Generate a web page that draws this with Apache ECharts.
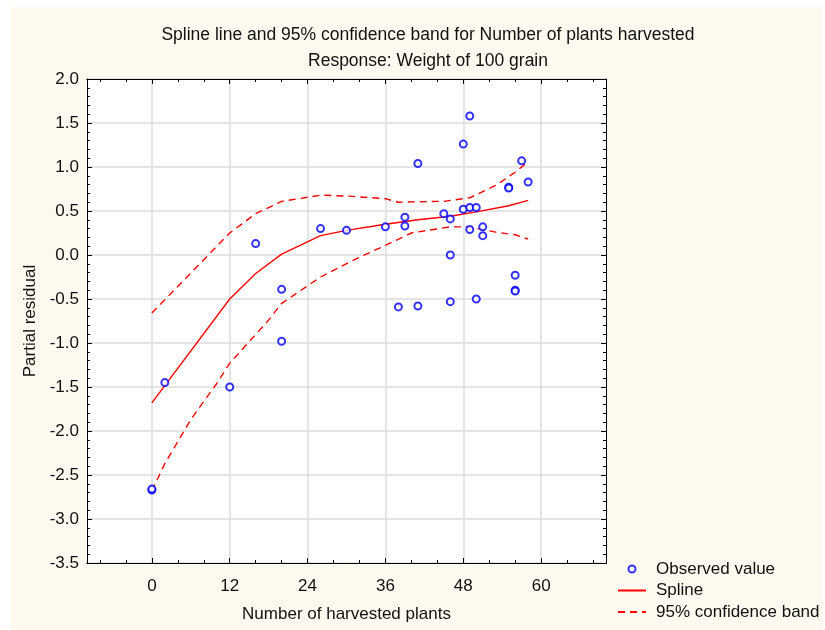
<!DOCTYPE html>
<html>
<head>
<meta charset="utf-8">
<script src="https://cdn.jsdelivr.net/npm/echarts@6/dist/echarts.min.js"></script>
<style>
  html, body { margin: 0; padding: 0; background: #ffffff; }
  #chart { width: 825px; height: 630px; }
</style>
</head>
<body>
<div id="chart"></div>
<script>
// observed partial residuals
const obsX = [0, 0, 2, 12, 16, 20, 20, 26, 30, 36, 38, 39, 39, 41, 41, 45, 46, 46, 46, 48, 48,
  49, 49, 49, 50, 50, 51, 51, 55, 55, 56, 56, 56, 57, 58];
const obsY = [-2.67, -2.66, -1.45, -1.50, 0.13, -0.39, -0.98, 0.30, 0.28, 0.32, -0.59, 0.43, 0.33, 1.04, -0.58, 0.47, 0.41, 0.00, -0.53, 1.26, 0.52,
  1.58, 0.54, 0.29, 0.54, -0.50, 0.32, 0.22, 0.77, 0.76, -0.23, -0.40, -0.41, 1.07, 0.83];

// spline fit
const splineX = [0, 12, 16, 20, 26, 30, 36, 41, 46, 50, 55, 58];
const splineY = [-1.68, -0.50, -0.21, 0.01, 0.22, 0.28, 0.35, 0.40, 0.44, 0.49, 0.56, 0.62];

// 95% band
const upperX = [0, 12, 16, 20, 26, 30, 36, 38, 45, 49, 53, 56, 58];
const upperY = [-0.66, 0.25, 0.47, 0.61, 0.68, 0.67, 0.64, 0.60, 0.61, 0.65, 0.79, 0.94, 1.06];
const lowerX = [0, 2, 6, 10, 12, 18, 20, 26, 31, 36, 40, 46, 49, 53, 56, 58];
const lowerY = [-2.68, -2.37, -1.87, -1.46, -1.23, -0.74, -0.55, -0.25, -0.06, 0.11, 0.25, 0.32, 0.32, 0.26, 0.23, 0.18];

const xTickLabels = [0, 12, 24, 36, 48, 60];
const xMinorTicks = [];
for (let v = -8; v <= 68; v += 4) xMinorTicks.push(v);

const zip = (xs, ys) => xs.map((x, i) => [x, ys[i]]);

const font = 'Liberation Sans, Arial, sans-serif';
const txt = '#111111';
const fs = 17;

function xAxisFor(pos, major) {
  const vals = major ? xTickLabels : xMinorTicks;
  return {
    type: 'value', position: pos, min: -10, max: 70,
    axisLine: { show: true, onZero: false, lineStyle: { color: '#000', width: 1 } },
    axisTick: { show: true, inside: true, length: major ? 5 : 3, customValues: vals,
      lineStyle: { color: '#000', width: 1 } },
    axisLabel: { show: major && pos === 'bottom', customValues: xTickLabels, margin: 15,
      fontFamily: font, fontSize: fs, color: txt },
    splitLine: { show: major && pos === 'bottom', lineStyle: { color: '#dcdcdc', width: 1.5 } },
    name: major && pos === 'bottom' ? 'Number of harvested plants' : '',
    nameLocation: 'middle', nameGap: 43,
    nameTextStyle: { fontFamily: font, fontSize: fs, color: txt }
  };
}

function yAxisFor(pos) {
  const left = pos === 'left';
  return {
    type: 'value', position: pos, min: -3.5, max: 2, interval: 0.5,
    axisLine: { show: true, onZero: false, lineStyle: { color: '#000', width: 1 } },
    axisTick: { show: true, inside: true, length: 5, lineStyle: { color: '#000' } },
    minorTick: { show: true, splitNumber: 5, length: 3, lineStyle: { color: '#000' } },
    axisLabel: { show: left, margin: 8, fontFamily: font, fontSize: fs, color: txt,
      formatter: v => v.toFixed(1) },
    splitLine: { show: left, lineStyle: { color: '#dcdcdc', width: 1.5 } },
    name: left ? 'Partial residual' : '',
    nameLocation: 'middle', nameGap: 47,
    nameTextStyle: { fontFamily: font, fontSize: fs, color: txt }
  };
}

const chart = echarts.init(document.getElementById('chart'));
chart.setOption({
  animation: false,
  graphic: [{
    type: 'rect', z: -10, silent: true,
    shape: { x: 11, y: 7, width: 812, height: 623 },
    style: { fill: '#fdf9ee' }
  }],
  title: [
    { text: 'Spline line and 95% confidence band for Number of plants harvested', left: 423, top: 21,
      textAlign: 'center', textStyle: { fontFamily: font, fontSize: 17.5, fontWeight: 'normal', color: txt } },
    { text: 'Response: Weight of 100 grain', left: 423, top: 47,
      textAlign: 'center', textStyle: { fontFamily: font, fontSize: 17.5, fontWeight: 'normal', color: txt } }
  ],
  grid: { left: 87, top: 79, width: 519, height: 484, show: true, backgroundColor: '#ffffff', borderWidth: 0 },
  xAxis: [xAxisFor('bottom', true), xAxisFor('bottom', false), xAxisFor('top', true), xAxisFor('top', false)],
  yAxis: [yAxisFor('left'), yAxisFor('right')],
  legend: {
    orient: 'vertical', left: 617, top: 559, padding: 0, height: 70,
    itemGap: 1.5, itemWidth: 28, itemHeight: 7,
    textStyle: { fontFamily: font, fontSize: fs, color: txt, lineHeight: 20, padding: [0, 0, 0, 5] },
    data: [
      { name: 'Observed value' },
      { name: 'Spline', itemStyle: { opacity: 0 } },
      { name: '95% confidence band', itemStyle: { opacity: 0 } }
    ]
  },
  series: [
    {
      name: 'Observed value', type: 'scatter', data: zip(obsX, obsY),
      symbol: 'emptyCircle', symbolSize: 7,
      itemStyle: { color: '#0000ff', borderColor: '#0000ff', borderWidth: 1.5 }, z: 5
    },
    {
      name: 'Spline', type: 'line', data: zip(splineX, splineY), symbol: 'none',
      lineStyle: { color: '#ff0000', width: 1.4 }, itemStyle: { color: '#ff0000' }
    },
    {
      name: '95% confidence band', type: 'line', data: zip(upperX, upperY), symbol: 'none',
      lineStyle: { color: '#ff0000', width: 1.4, type: [7, 5] }, itemStyle: { color: '#ff0000' }
    },
    {
      name: '95% confidence band', type: 'line', data: zip(lowerX, lowerY), symbol: 'none',
      lineStyle: { color: '#ff0000', width: 1.4, type: [7, 5] }, itemStyle: { color: '#ff0000' }
    }
  ]
});
</script>
</body>
</html>
